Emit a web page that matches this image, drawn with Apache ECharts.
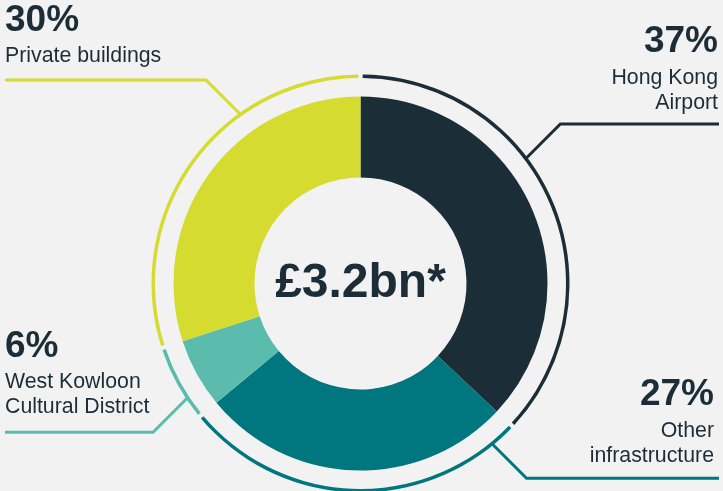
<!DOCTYPE html>
<html>
<head>
<meta charset="utf-8">
<style>
  html, body { margin: 0; padding: 0; background: #f2f2f2; }
  #chart { width: 723px; height: 491px; }
</style>
<script src="https://cdn.jsdelivr.net/npm/echarts@6/dist/echarts.min.js"></script>
</head>
<body>
<div id="chart"></div>
<script>
// data
const categories = ['Hong Kong Airport', 'Other infrastructure', 'West Kowloon Cultural District', 'Private buildings']
const shares = [37, 27, 6, 30]
const labelLines = [['Hong Kong', 'Airport'], ['Other', 'infrastructure'], ['West Kowloon', 'Cultural District'], ['Private buildings']]
const totalText = '£3.2bn*'

const colors = ['#1b2d37', '#00767e', '#5bbcad', '#d5db2f']
const textColor = '#1c2d38'

// layout
const cx = 360.5
const cy = 283.5
const ringR = 208
const leaderAngle = [52.9, 140.6, 236.5, 324.6] // degrees clockwise from top
const labelGap = [8, 9, 12, 11]
const labelX = [718, 714, 5, 5]
const diag = 34

const chart = echarts.init(document.getElementById('chart'))

const pieData = categories.map(function (name, i) {
  return { name: name, value: shares[i], itemStyle: { color: colors[i] } }
})

function polar(r, deg) {
  const a = deg * Math.PI / 180
  return [cx + r * Math.sin(a), cy - r * Math.cos(a)]
}

const option = {
  animation: false,
  backgroundColor: '#f2f2f2',
  textStyle: { fontFamily: 'Liberation Sans, Arial, sans-serif' },
  graphic: [{
    type: 'text',
    x: cx,
    y: cy,
    style: {
      text: totalText,
      fill: textColor,
      font: 'bold 48px "Liberation Sans", Arial, sans-serif',
      textAlign: 'center',
      textVerticalAlign: 'middle'
    }
  }],
  series: [
    {
      // main donut
      type: 'pie',
      center: [cx, cy],
      radius: [106, 187],
      startAngle: 90,
      silent: true,
      label: { show: false },
      labelLine: { show: false },
      data: pieData
    },
    {
      // thin outer ring with leader labels
      type: 'pie',
      center: [cx, cy],
      radius: [205.5, 209],
      startAngle: 90,
      padAngle: 1.2,
      silent: true,
      avoidLabelOverlap: false,
      data: pieData,
      label: {
        show: true,
        position: 'outside',
        color: textColor,
        formatter: function (p) {
          const i = p.dataIndex
          return ['{p|' + shares[i] + '%}'].concat(labelLines[i].map(function (s) {
            return '{n|' + s + '}'
          })).join('\n')
        },
        rich: {
          p: { fontSize: 37, fontWeight: 'bold', lineHeight: 46, color: textColor, fontFamily: 'Liberation Sans' },
          n: { fontSize: 21.3, lineHeight: 25.5, color: textColor, fontFamily: 'Liberation Sans' }
        }
      },
      labelLine: {
        show: true,
        lineStyle: { width: 3 }
      },
      labelLayout: function (params) {
        const i = params.dataIndex
        const ang = leaderAngle[i]
        const start = polar(ringR, ang)
        const sx = Math.sin(ang * Math.PI / 180) > 0 ? 1 : -1
        const sy = -Math.cos(ang * Math.PI / 180) > 0 ? 1 : -1
        const elbow = [start[0] + sx * diag, start[1] + sy * diag]
        const right = sx > 0
        const end = [right ? 719 : 5, elbow[1]]
        return {
          x: labelX[i],
          y: elbow[1] - labelGap[i],
          align: right ? 'right' : 'left',
          verticalAlign: 'bottom',
          labelLinePoints: [start, elbow, end]
        }
      }
    }
  ]
}

chart.setOption(option)
window.addEventListener('resize', function () {
  chart.resize()
})
</script>
</body>
</html>
